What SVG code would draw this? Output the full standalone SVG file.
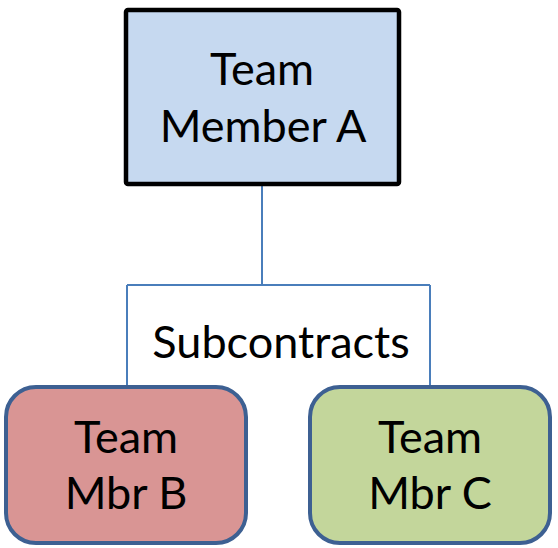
<svg xmlns="http://www.w3.org/2000/svg" width="558" height="548" viewBox="0 0 558 548">
<style>
text{font-family:Lato,"Open Sans","Liberation Sans",sans-serif;font-size:45px;fill:#000;text-anchor:middle}
.sub{fill:#d99594;stroke:#3d6092;stroke-width:4}
.conn{fill:none;stroke:#4a7ebb;stroke-width:2}
</style>
<rect width="558" height="548" fill="#fff"/>
<g id="connectors">
<path class="conn" d="M262 185V285M127 285H430M127 285V386M430 285V386"/>
</g>
<g id="nodeA">
<rect x="126" y="10" width="273" height="174" fill="#c6d9f0" stroke="#000" stroke-width="4.5" rx="2"/>
<text x="262" y="85">Team</text>
<text x="263" y="142">Member A</text>
</g>
<g id="label">
<text x="281" y="358">Subcontracts</text>
</g>
<g id="nodeB">
<rect class="sub" x="6" y="387" width="240" height="156" rx="30"/>
<text x="126" y="453">Team</text>
<text x="126" y="509">Mbr B</text>
</g>
<g id="nodeC">
<rect class="sub" x="310" y="387" width="240" height="156" rx="30" style="fill:#c3d69b"/>
<text x="430" y="453">Team</text>
<text x="430" y="509">Mbr C</text>
</g>
</svg>
